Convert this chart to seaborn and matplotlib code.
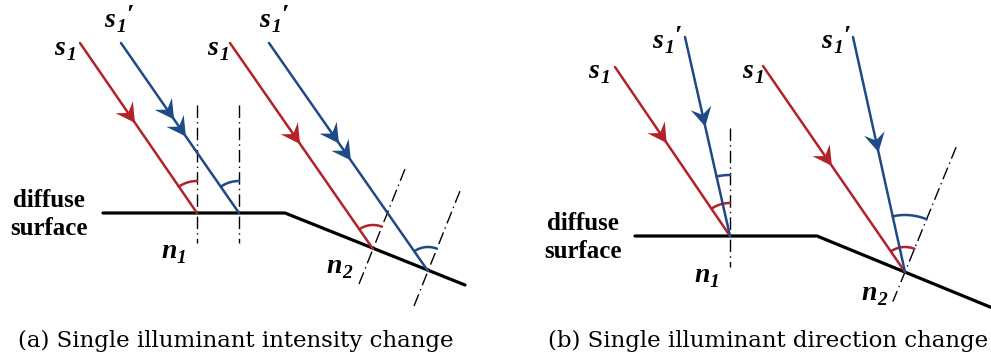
import numpy as np
import pandas as pd
import matplotlib.pyplot as plt
import seaborn as sns

# colours of the two illuminants
RED = "#B3212B"
BLUE = "#1E4A86"

# ---- panel (a): single illuminant intensity change (pixel coordinates) ----
surf_a_x = [103, 285, 465]
surf_a_y = [213, 213, 285]
rays_a_start = [(80, 43), (121, 43), (230, 43), (269, 43)]
rays_a_hit = [(197, 213), (239, 213), (373, 249), (428, 271)]
rays_a_color = [RED, BLUE, RED, BLUE]
rays_a_arrows = [[0.47], [0.45, 0.55], [0.49], [0.44, 0.515]]
normals_a_dir = [(0, -1), (0, -1), (0.371, -0.928), (0.371, -0.928)]
normals_a_len = [(108, 30), (108, 30), (86, 40), (86, 40)]
arcs_a_radius = [32, 32, 24, 24]

# ---- panel (b): single illuminant direction change ----
surf_b_x = [635, 817, 995]
surf_b_y = [236, 236, 309]
rays_b_start = [(615, 67), (685, 37), (763, 66), (853, 37)]
rays_b_hit = [(730, 236), (730, 236), (905, 272), (905, 272)]
rays_b_color = [RED, BLUE, RED, BLUE]
rays_b_arrows = [[0.45], [0.45], [0.485], [0.49]]
normals_b_dir = [(0, -1), (0.379, -0.926)]
normals_b_hit = [(730, 236), (905, 272)]
normals_b_len = [(108, 31), (135, 32)]
arcs_b_dir = [(0, -1), (0, -1), (0.379, -0.926), (0.379, -0.926)]
arcs_b_radius = [33, 61, 25, 57]

# labels: (main, sub, prime?, x, baseline)
labels_s = [("s", "1", False, 54, 55), ("s", "1", True, 104, 27),
            ("s", "1", False, 207, 55), ("s", "1", True, 259, 27),
            ("s", "1", False, 588, 78), ("s", "1", True, 652, 48),
            ("s", "1", False, 742, 78), ("s", "1", True, 821, 48),
            ("n", "1", False, 161, 258), ("n", "2", False, 326, 273),
            ("n", "1", False, 694, 282), ("n", "2", False, 861, 300)]
surface_labels = [(49, 207, 235), (583, 230, 258)]
captions = ["(a) Single illuminant intensity change",
            "(b) Single illuminant direction change"]
caption_x = [18, 548]

sns.set_theme(style="white")
plt.rcParams["font.family"] = ["Liberation Serif", "DejaVu Serif"]
plt.rcParams["text.color"] = "black"

fig = plt.figure(figsize=(9.91, 3.6), dpi=100)
ax = fig.add_axes([0, 0, 1, 1])
ax.set_xlim(0, 991)
ax.set_ylim(360, 0)
ax.axis("off")


def unit(v):
    v = np.asarray(v, dtype=float)
    return v / np.hypot(*v)


def draw_ray(start, hit, color, fracs):
    df = pd.DataFrame({"x": [start[0], hit[0]], "y": [start[1], hit[1]]})
    sns.lineplot(data=df, x="x", y="y", sort=False, estimator=None,
                 color=color, lw=1.8, ax=ax, zorder=3)
    s, h = np.array(start, float), np.array(hit, float)
    d = unit(h - s)
    p = np.array([-d[1], d[0]])
    for f in fracs:
        tip = s + f * (h - s)
        base = tip - 19 * d
        notch = base + 7 * d
        poly = np.array([tip, base + 10.5 * p, notch, base - 10.5 * p])
        ax.fill(poly[:, 0], poly[:, 1], color=color, lw=0, zorder=4)


def draw_normal(hit, ndir, up, down):
    h = np.array(hit, float)
    n = unit(ndir)
    a, b = h + up * n, h - down * n
    ax.plot([a[0], b[0]], [a[1], b[1]], color="black", lw=1.0,
            dashes=(9, 3, 1, 3), zorder=2)


def draw_arc(hit, ndir, start, radius, color):
    h = np.array(hit, float)
    a1 = np.arctan2(*unit(ndir)[::-1])
    a2 = np.arctan2(*unit(np.array(start, float) - h)[::-1])
    t = np.linspace(a1, a2, 40)
    ax.plot(h[0] + radius * np.cos(t), h[1] + radius * np.sin(t),
            color=color, lw=1.8, zorder=3)


for xs, ys in [(surf_a_x, surf_a_y), (surf_b_x, surf_b_y)]:
    sns.lineplot(x=xs, y=ys, sort=False, estimator=None, color="black",
                 lw=2.3, ax=ax, zorder=3)

for i in range(4):
    draw_normal(rays_a_hit[i], normals_a_dir[i], *normals_a_len[i])
    draw_ray(rays_a_start[i], rays_a_hit[i], rays_a_color[i], rays_a_arrows[i])
    draw_arc(rays_a_hit[i], normals_a_dir[i], rays_a_start[i],
             arcs_a_radius[i], rays_a_color[i])

for i in range(2):
    draw_normal(normals_b_hit[i], normals_b_dir[i], *normals_b_len[i])
for i in range(4):
    draw_ray(rays_b_start[i], rays_b_hit[i], rays_b_color[i], rays_b_arrows[i])
    draw_arc(rays_b_hit[i], arcs_b_dir[i], rays_b_start[i],
             arcs_b_radius[i], rays_b_color[i])

for main, sub, prime, x, y in labels_s:
    ax.text(x, y, main, fontsize=20, fontweight="bold", fontstyle="italic",
            ha="left", va="baseline")
    dx = 12.5 if main == "s" else 16
    ax.text(x + dx, y + 5, sub, fontsize=14, fontweight="bold",
            fontstyle="italic", ha="left", va="baseline")
    if prime:
        ax.text(x + 22, y - 4, "\u2032", fontsize=20, fontweight="bold",
                ha="left", va="baseline")

for cx, y1, y2 in surface_labels:
    ax.text(cx, y1, "diffuse", fontsize=18, fontweight="bold",
            ha="center", va="baseline")
    ax.text(cx, y2, "surface", fontsize=18, fontweight="bold",
            ha="center", va="baseline")

for x, cap in zip(caption_x, captions):
    ax.text(x, 347, cap, fontsize=16.5, family="DejaVu Serif",
            ha="left", va="baseline")

fig.savefig("out.png", dpi=100)
